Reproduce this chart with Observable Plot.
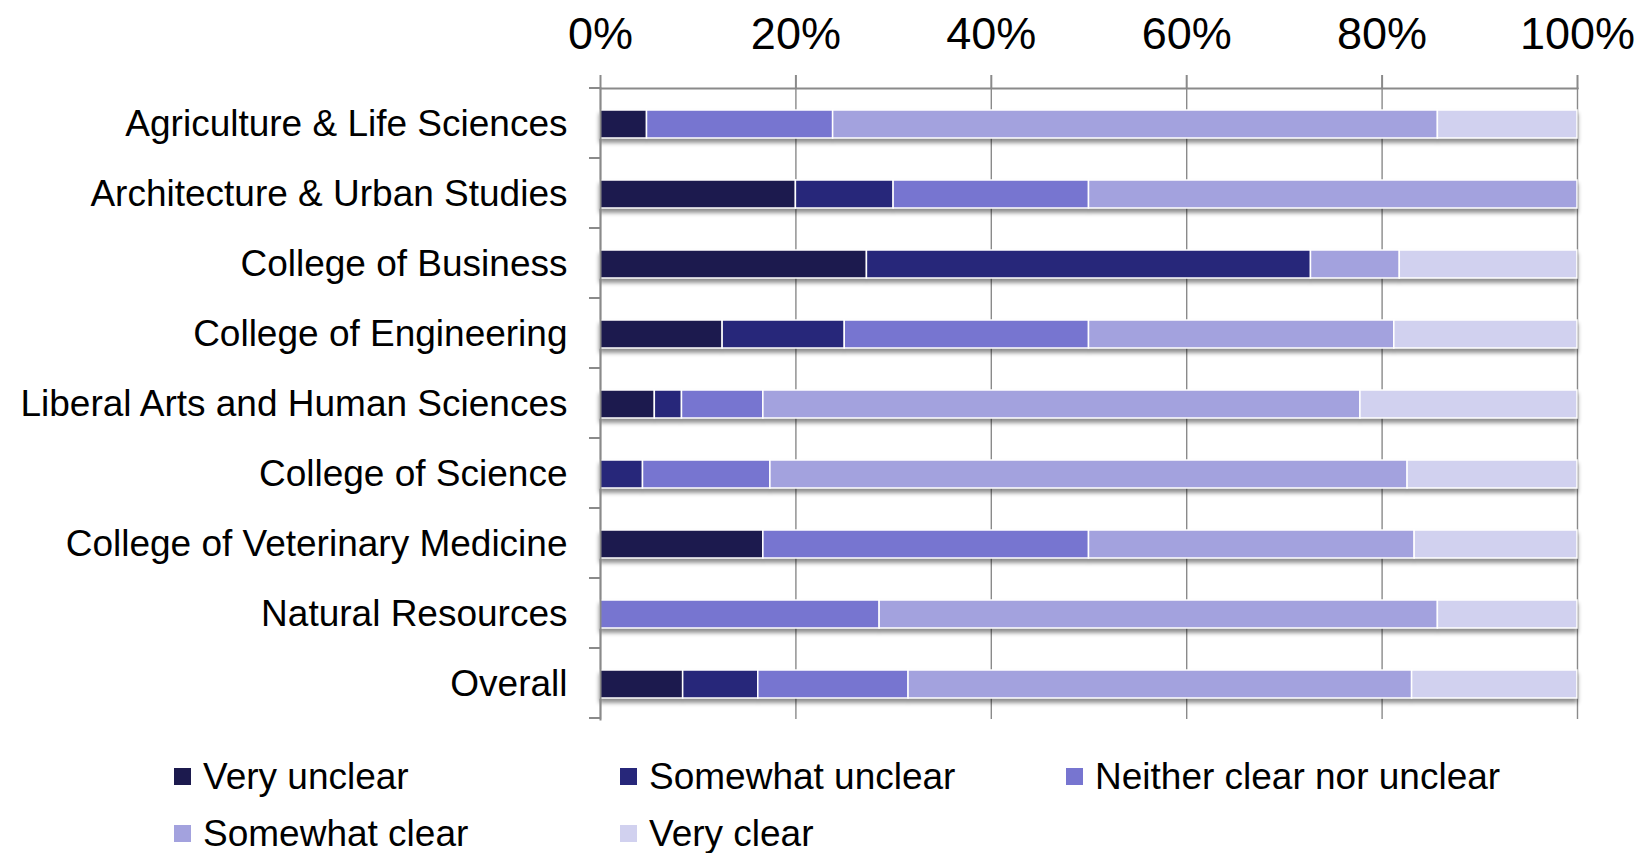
<!DOCTYPE html>
<html><head><meta charset="utf-8">
<script src="https://cdn.jsdelivr.net/npm/d3@7"></script>
<script src="https://cdn.jsdelivr.net/npm/@observablehq/plot@0.6"></script>
<style>
body{margin:0;background:#fff;font-family:"Liberation Sans",Arial,sans-serif;}
#wrap{position:relative;width:1652px;height:853px;overflow:hidden;}
#wrap svg{display:block;}
.legend{position:absolute;left:174px;top:748px;display:grid;grid-template-columns:446px 446px 446px;grid-auto-rows:57px;}
.item{display:flex;align-items:center;font-size:37px;color:#000;white-space:nowrap;}
.sw{width:17px;height:17px;margin-right:12px;flex:none;}
</style></head><body><div id="wrap"></div>
<script>
const colleges = ["Agriculture & Life Sciences","Architecture & Urban Studies","College of Business","College of Engineering","Liberal Arts and Human Sciences","College of Science","College of Veterinary Medicine","Natural Resources","Overall"];
const levels = ["Very unclear","Somewhat unclear","Neither clear nor unclear","Somewhat clear","Very clear"];
const veryUnclear     = [4.76, 20, 27.27, 12.5, 5.56, 0, 16.67, 0, 8.46];
const somewhatUnclear = [0, 10, 45.45, 12.5, 2.78, 4.35, 0, 0, 7.69];
const neither         = [19.05, 20, 0, 25, 8.33, 13.04, 33.33, 28.57, 15.38];
const somewhatClear   = [61.9, 50, 9.09, 31.25, 61.11, 65.22, 33.33, 57.14, 51.54];
const veryClear       = [14.29, 0, 18.18, 18.75, 22.22, 17.39, 16.67, 14.29, 16.92];
const colors = ["#1c1a4e","#27277a","#7775d0","#a3a2de","#d1d1ef"];
const xTicks = [0,20,40,60,80,100];

const series = [veryUnclear, somewhatUnclear, neither, somewhatClear, veryClear];
const data = [];
colleges.forEach((c,i)=>series.forEach((s,j)=>{ if (s[i]>0) data.push({college:c, level:levels[j], value:s[i]}); }));

const gray = "#8a8a8a";
const chart = Plot.plot({
  width:1652, height:745, marginLeft:600, marginRight:75, marginTop:88, marginBottom:26,
  style:{fontFamily:'"Liberation Sans", Arial, sans-serif', color:"#000", background:"#fff"},
  x:{domain:[0,100]},
  y:{domain:colleges, paddingInner:0.6, paddingOuter:0.3},
  color:{domain:levels, range:colors},
  marks:[
    Plot.gridX(xTicks, {stroke:gray, strokeOpacity:1, strokeWidth:1.4}),
    Plot.barX(data, Plot.stackX({x:"value", y:"college", fill:"level", order:levels, stroke:"#fff", strokeWidth:1.5})),
    Plot.axisX(xTicks, {anchor:"top", tickSize:14, tickPadding:26, tickFormat:d=>d+"%", fontSize:45, stroke:gray, strokeWidth:2, fill:"#000", label:null}),
    Plot.axisY({tickSize:0, tickPadding:33, fontSize:37, fill:"#000", label:null}),
    Plot.frame({anchor:"top", stroke:gray, strokeWidth:2}),
    Plot.frame({anchor:"left", stroke:gray, strokeWidth:2})
  ]
});
const svg = d3.select(chart);
svg.selectAll('g[aria-label="bar"]').style("filter","drop-shadow(0px 4px 2px rgba(0,0,0,0.45))");
const ys = chart.scale("y");
const xs = chart.scale("x");
const x0 = xs.range[0];
const bounds = d3.range(colleges.length + 1).map(k => ys.range[0] + k * ys.step);
svg.append("g").attr("stroke", gray).attr("stroke-width", 2)
  .selectAll("line").data(bounds).join("line")
  .attr("x1", x0 - 11).attr("x2", x0).attr("y1", d => d).attr("y2", d => d);

const wrap = document.getElementById("wrap");
wrap.appendChild(chart);
const legend = document.createElement("div");
legend.className = "legend";
levels.forEach((l,i)=>{
  const it = document.createElement("div"); it.className="item";
  const sw = document.createElement("span"); sw.className="sw"; sw.style.background = colors[i];
  it.appendChild(sw); it.appendChild(document.createTextNode(l));
  legend.appendChild(it);
});
wrap.appendChild(legend);
</script></body></html>
